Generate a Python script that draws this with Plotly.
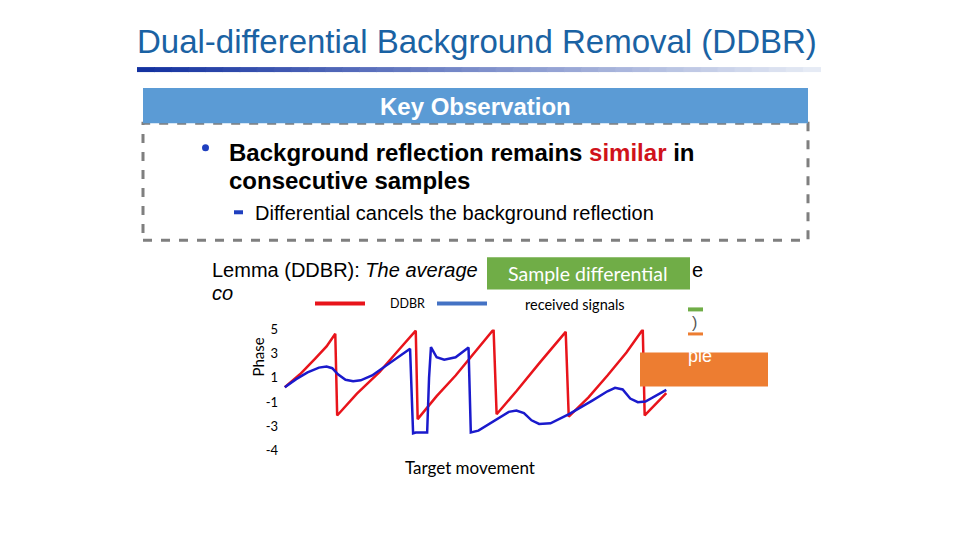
import plotly.graph_objects as go

red_x = [25.0, 29.0, 33.0, 36.0, 38.3, 38.8, 44.0, 50.0, 55.0, 59.5, 60.0, 65.0, 70.0, 75.0, 80.0, 80.8, 86.0, 92.0, 96.0, 99.0, 99.8, 105.0, 110.0, 115.0, 119.3, 119.8, 125.5]
red_y = [0.23, 1.3, 2.6, 3.6, 4.64, -2.1, -0.3, 1.5, 3.3, 4.9, -2.4, -0.5, 1.2, 3.1, 5.0, -2.0, -0.1, 2.2, 3.7, 4.8, -2.2, -0.6, 1.2, 3.1, 5.0, -2.1, -0.26]
blue_x = [25.0, 28.0, 31.0, 34.0, 36.0, 37.5, 39.0, 41.0, 43.0, 45.0, 48.0, 53.0, 58.0, 58.8, 59.5, 62.5, 63.0, 63.5, 65.0, 67.0, 70.0, 73.4, 74.0, 76.0, 80.0, 84.0, 86.0, 88.0, 90.0, 92.0, 95.0, 100.0, 106.0, 110.0, 112.0, 114.0, 116.0, 118.0, 120.0, 125.5]
blue_y = [0.23, 0.9, 1.45, 1.85, 1.94, 1.8, 1.3, 0.85, 0.73, 0.8, 1.2, 2.3, 3.4, -3.57, -3.5, -3.5, 1.0, 3.54, 2.7, 2.5, 2.7, 3.5, -3.5, -3.35, -2.6, -1.8, -1.7, -1.9, -2.5, -2.8, -2.75, -1.97, -0.87, -0.1, 0.18, 0.05, -0.7, -1.0, -0.95, 0.01]
tick_vals = [5, 3, 1, -1, -3, -5]
tick_text = ["5", "3", "1", "-1", "-3", "-4"]

W, H = 960, 540
def px(x): return (x - 8) / W
def py(y): return 1 - ((y - 16) / 0.969) / H

fig = go.Figure()
fig.add_trace(go.Scatter(x=red_x, y=red_y, mode="lines", line=dict(color="#e8141b", width=2.5), showlegend=False))
fig.add_trace(go.Scatter(x=blue_x, y=blue_y, mode="lines", line=dict(color="#1a1acc", width=2.5), showlegend=False))

shapes = []
ann = []
n = 40
x0, x1 = 137, 820
for i in range(n):
    t = i / (n - 1)
    r = int(20 + t * (230 - 20)); g = int(50 + t * (235 - 50)); b = int(160 + t * (245 - 160))
    shapes.append(dict(type="rect", xref="paper", yref="paper", x0=px(x0 + (x1 - x0) * i / n), x1=px(x0 + (x1 - x0) * (i + 1) / n + 1),
                       y0=py(72), y1=py(67), fillcolor=f"rgb({r},{g},{b})", line=dict(width=0)))
shapes.append(dict(type="rect", xref="paper", yref="paper", x0=px(143), x1=px(808), y0=py(240), y1=py(123),
                   line=dict(color="#7f7f7f", width=3, dash="dash"), fillcolor="white"))
shapes.append(dict(type="rect", xref="paper", yref="paper", x0=px(143), x1=px(808), y0=py(123), y1=py(88),
                   fillcolor="#5b9bd5", line=dict(width=0)))
shapes.append(dict(type="circle", xref="paper", yref="paper", x0=px(202), x1=px(209), y0=py(151), y1=py(144),
                   fillcolor="#1f3fbf", line=dict(width=0)))
shapes.append(dict(type="rect", xref="paper", yref="paper", x0=px(234), x1=px(243), y0=py(214), y1=py(210),
                   fillcolor="#1f3fbf", line=dict(width=0)))
shapes.append(dict(type="rect", xref="paper", yref="paper", x0=px(487), x1=px(690), y0=py(289), y1=py(257),
                   fillcolor="#70ad47", line=dict(width=0)))
shapes.append(dict(type="rect", xref="paper", yref="paper", x0=px(688), x1=px(703), y0=py(311), y1=py(307),
                   fillcolor="#70ad47", line=dict(width=0)))
shapes.append(dict(type="rect", xref="paper", yref="paper", x0=px(688), x1=px(703), y0=py(335), y1=py(332),
                   fillcolor="#ed7d31", line=dict(width=0)))
shapes.append(dict(type="rect", xref="paper", yref="paper", x0=px(640), x1=px(768), y0=py(386), y1=py(352),
                   fillcolor="#ed7d31", line=dict(width=0)))
shapes.append(dict(type="line", xref="paper", yref="paper", x0=px(315), x1=px(365), y0=py(303), y1=py(303),
                   line=dict(color="#e8141b", width=4)))
shapes.append(dict(type="line", xref="paper", yref="paper", x0=px(437), x1=px(487), y0=py(303), y1=py(303),
                   line=dict(color="#4472c4", width=4)))

def A(x, y, text, size, color="black", family="Liberation Sans, Arial", xanchor="left", **kw):
    ann.append(dict(xref="paper", yref="paper", x=px(x), y=py(y), text=text, showarrow=False, xanchor=xanchor,
                    yanchor="middle", font=dict(size=size, color=color, family=family), **kw))

A(135, 41, "Dual-differential Background Removal (DDBR)", 33, "#1a62a3")
A(475, 106, "<b>Key Observation</b>", 24, "white", xanchor="center")
A(227, 152, "<b>Background reflection remains <span style='color:#d0121b'>similar</span> in</b>", 24)
A(227, 180, "<b>consecutive samples</b>", 24)
A(253, 213, "Differential cancels the background reflection", 20)
A(210, 270, "Lemma (DDBR): <i>The average</i>", 20)
A(690, 270, "e", 20)
A(210, 293, "<i>co</i>", 20)
A(588, 273, "Sample differential", 19.5, "white", family="Lato, Open Sans", xanchor="center")
A(690, 322, ")", 16, "#555")
A(686, 356, "ple", 18, "white")
A(388, 303, "DDBR", 12.5, family="Lato, Open Sans")
A(523, 304, "received signals", 14.5, family="Lato, Open Sans")
A(470, 467, "Target movement", 17, family="Lato, Open Sans", xanchor="center")
ann.append(dict(xref="paper", yref="paper", x=px(258), y=py(357), text="Phase", showarrow=False, textangle=-90,
                xanchor="center", yanchor="middle",
                font=dict(size=15, family="Lato, Open Sans", color="black")))

fig.update_layout(
    width=W, height=H, margin=dict(l=0, r=0, t=0, b=0), paper_bgcolor="white", plot_bgcolor="rgba(0,0,0,0)",
    shapes=shapes, annotations=ann, showlegend=False,
    xaxis=dict(domain=[px(281), px(672)], range=[24, 127], visible=False),
    yaxis=dict(domain=[py(450), py(329)], range=[-5, 5], tickvals=tick_vals, ticktext=tick_text,
               showgrid=False, zeroline=False, showline=False, ticks="", ticklabelstandoff=2,
               tickfont=dict(size=13, family="Lato, Open Sans", color="black")),
)
fig.write_html("out.html")
